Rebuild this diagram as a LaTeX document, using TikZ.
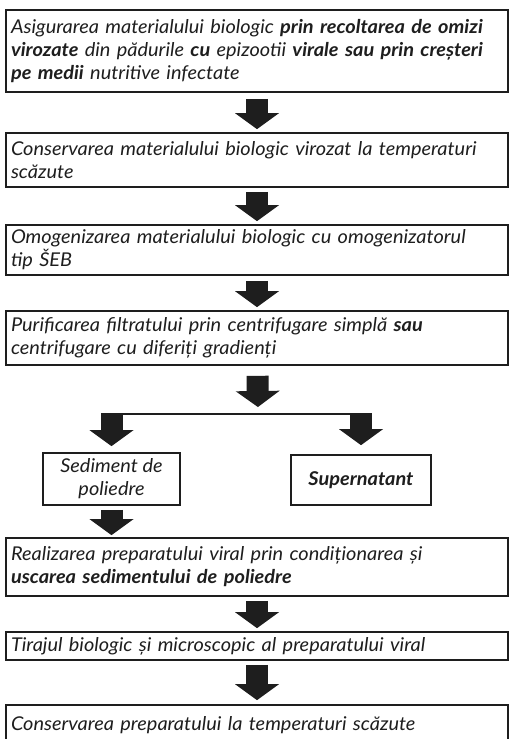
\documentclass[tikz,border=0pt]{standalone}
\usepackage{fontspec}
\setmainfont{Lato}[FakeStretch=1.05]
\usetikzlibrary{arrows.meta}
\definecolor{ink}{HTML}{1E1E1E}
\tikzset{
  stage/.style={draw=ink, line width=1.7pt, text=ink, font=\fontsize{19}{23}\selectfont\itshape,
    inner xsep=5pt, inner ysep=0pt},
  wide/.style={stage, text width=492pt, align=left},
  fatarrow/.style={draw=ink, line width=22pt,
    -{Triangle[length=16pt 0 0, width=44pt 0 0, line width=0pt 0 0]},
    shorten <=4pt, shorten >=3pt}
}
\begin{document}
\begin{tikzpicture}[x=1pt, y=-1pt]
  \clip (0,0) rectangle (515,739);
  \fill[white] (0,0) rectangle (515,739);

  \node[wide, minimum height=82pt] (asig) at (257,51)
    {Asigurarea materialului biologic \textbf{prin recoltarea de omizi}\\
     \textbf{virozate} din pădurile \textbf{cu} epizootii \textbf{virale sau prin creșteri}\\
     \textbf{pe medii} nutritive infectate};
  \node[wide, minimum height=54pt] (cons) at (257,160)
    {Conservarea materialului biologic virozat la temperaturi\\ scăzute};
  \node[wide, minimum height=50pt] (omog) at (257,250)
    {Omogenizarea materialului biologic cu omogenizatorul\\ tip ŠEB};
  \node[wide, minimum height=54pt] (puri) at (257,338)
    {Purificarea filtratului prin centrifugare simplă \textbf{sau}\\
     centrifugare cu diferiți gradienți};
  \node[stage, align=center, minimum width=137pt, minimum height=52pt] (sed) at (111.5,479)
    {Sediment de\\ poliedre};
  \node[stage, align=center, minimum width=140pt, minimum height=50pt] (sup) at (361,480)
    {\textbf{Supernatant}};
  \node[wide, minimum height=58pt] (real) at (257,567)
    {Realizarea preparatului viral prin condiționarea și\\
     \textbf{uscarea sedimentului de poliedre}};
  \node[wide, minimum height=28pt] (tir) at (257,646)
    {Tirajul biologic și microscopic al preparatului viral};
  \node[wide, minimum height=40pt] (pastr) at (257,725)
    {Conservarea preparatului la temperaturi scăzute};

  \coordinate (split) at (258,414);
  \coordinate (lsplit) at (sed.north |- split);
  \coordinate (rsplit) at (sup.north |- split);

  \draw[ink, line width=1.7pt] (lsplit) -- (rsplit);
  \draw[fatarrow, shorten <=6pt] (asig) -- (cons);
  \draw[fatarrow] (cons) -- (omog);
  \draw[fatarrow, shorten <=5pt] (omog) -- (puri);
  \draw[fatarrow, shorten <=10pt, shorten >=7pt] (puri) -- (split);
  \draw[fatarrow, shorten <=-1pt, shorten >=6pt] (lsplit) -- (sed);
  \draw[fatarrow, shorten <=-1pt, shorten >=9pt] (rsplit) -- (sup);
  \draw[fatarrow, shorten >=2pt] (sed) -- (sed |- real.north);
  \draw[fatarrow] (real) -- (tir);
  \draw[fatarrow, shorten >=4pt] (tir) -- (pastr);
\end{tikzpicture}
\end{document}
